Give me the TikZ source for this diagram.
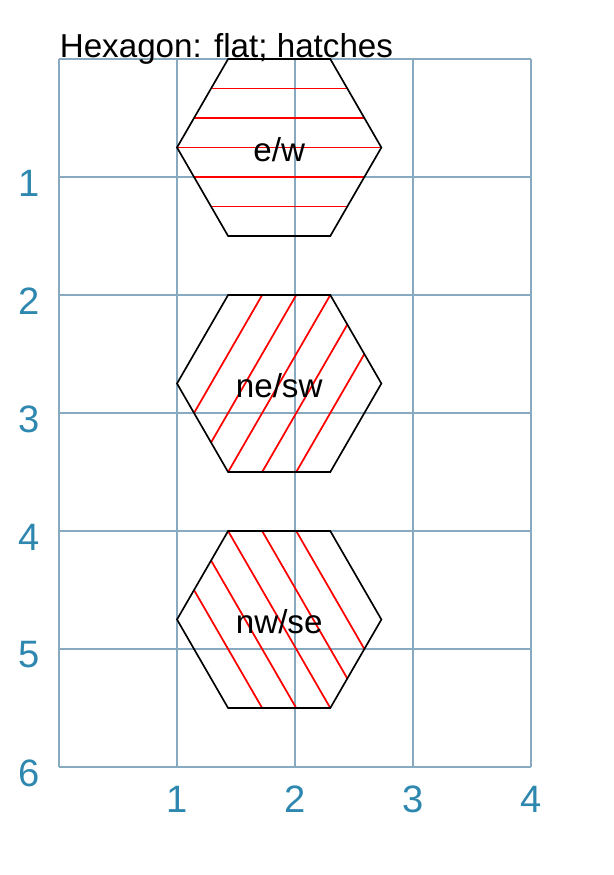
\documentclass[tikz,border=0pt]{standalone}
\usepackage{fontspec}
\setmainfont{Liberation Sans}
\definecolor{gridc}{RGB}{135,170,192}
\definecolor{labc}{RGB}{45,135,175}
\begin{document}
\begin{tikzpicture}[x=1cm,y=-1cm,
  gridline/.style={draw=gridc, line width=0.28pt},
  axlab/.style={text=labc, font=\fontsize{9.2}{11}\selectfont, inner sep=0pt},
  hexb/.style={draw=black, line width=0.4pt},
  hatch/.style={draw=red, line width=0.42pt},
  lab/.style={font=\fontsize{8}{10}\selectfont, inner sep=0pt}]
\useasboundingbox (-0.5,-0.5) rectangle (4.695,6.915);
\draw[gridline] (0,0) grid (4,6);
\foreach \k in {1,...,6} \node[axlab] (y\k) at (-0.25,\k+0.05) {\k};
\foreach \k in {1,...,4} \node[axlab] (x\k) at (\k,6.27) {\k};
\node[lab, anchor=base west] (title) at (0.0,-0.01) {Hexagon: flat; hatches};
% hexagon 1: e/w
\begin{scope}[shift={(1.866,0.75)}]
  \begin{scope}
    \clip (0:0.866) -- (60:0.866) -- (120:0.866) -- (180:0.866) -- (240:0.866) -- (300:0.866) -- cycle;
    \foreach \k in {-2,...,2} \draw[hatch] (-1,\k*0.25) -- (1,\k*0.25);
  \end{scope}
  \draw[hexb] (0:0.866) -- (60:0.866) -- (120:0.866) -- (180:0.866) -- (240:0.866) -- (300:0.866) -- cycle;
  \node[lab] (lew) at (0,0.02) {e/w};
\end{scope}
% hexagon 2: ne/sw
\begin{scope}[shift={(1.866,2.75)}]
  \begin{scope}
    \clip (0:0.866) -- (60:0.866) -- (120:0.866) -- (180:0.866) -- (240:0.866) -- (300:0.866) -- cycle;
    \foreach \k in {-2,...,2} \draw[hatch, rotate=60] (-1,\k*0.25) -- (1,\k*0.25);
  \end{scope}
  \draw[hexb] (0:0.866) -- (60:0.866) -- (120:0.866) -- (180:0.866) -- (240:0.866) -- (300:0.866) -- cycle;
  \node[lab] (lnesw) at (0,0.02) {ne/sw};
\end{scope}
% hexagon 3: nw/se
\begin{scope}[shift={(1.866,4.75)}]
  \begin{scope}
    \clip (0:0.866) -- (60:0.866) -- (120:0.866) -- (180:0.866) -- (240:0.866) -- (300:0.866) -- cycle;
    \foreach \k in {-2,...,2} \draw[hatch, rotate=-60] (-1,\k*0.25) -- (1,\k*0.25);
  \end{scope}
  \draw[hexb] (0:0.866) -- (60:0.866) -- (120:0.866) -- (180:0.866) -- (240:0.866) -- (300:0.866) -- cycle;
  \node[lab] (lnwse) at (0,0.02) {nw/se};
\end{scope}
\end{tikzpicture}
\end{document}
